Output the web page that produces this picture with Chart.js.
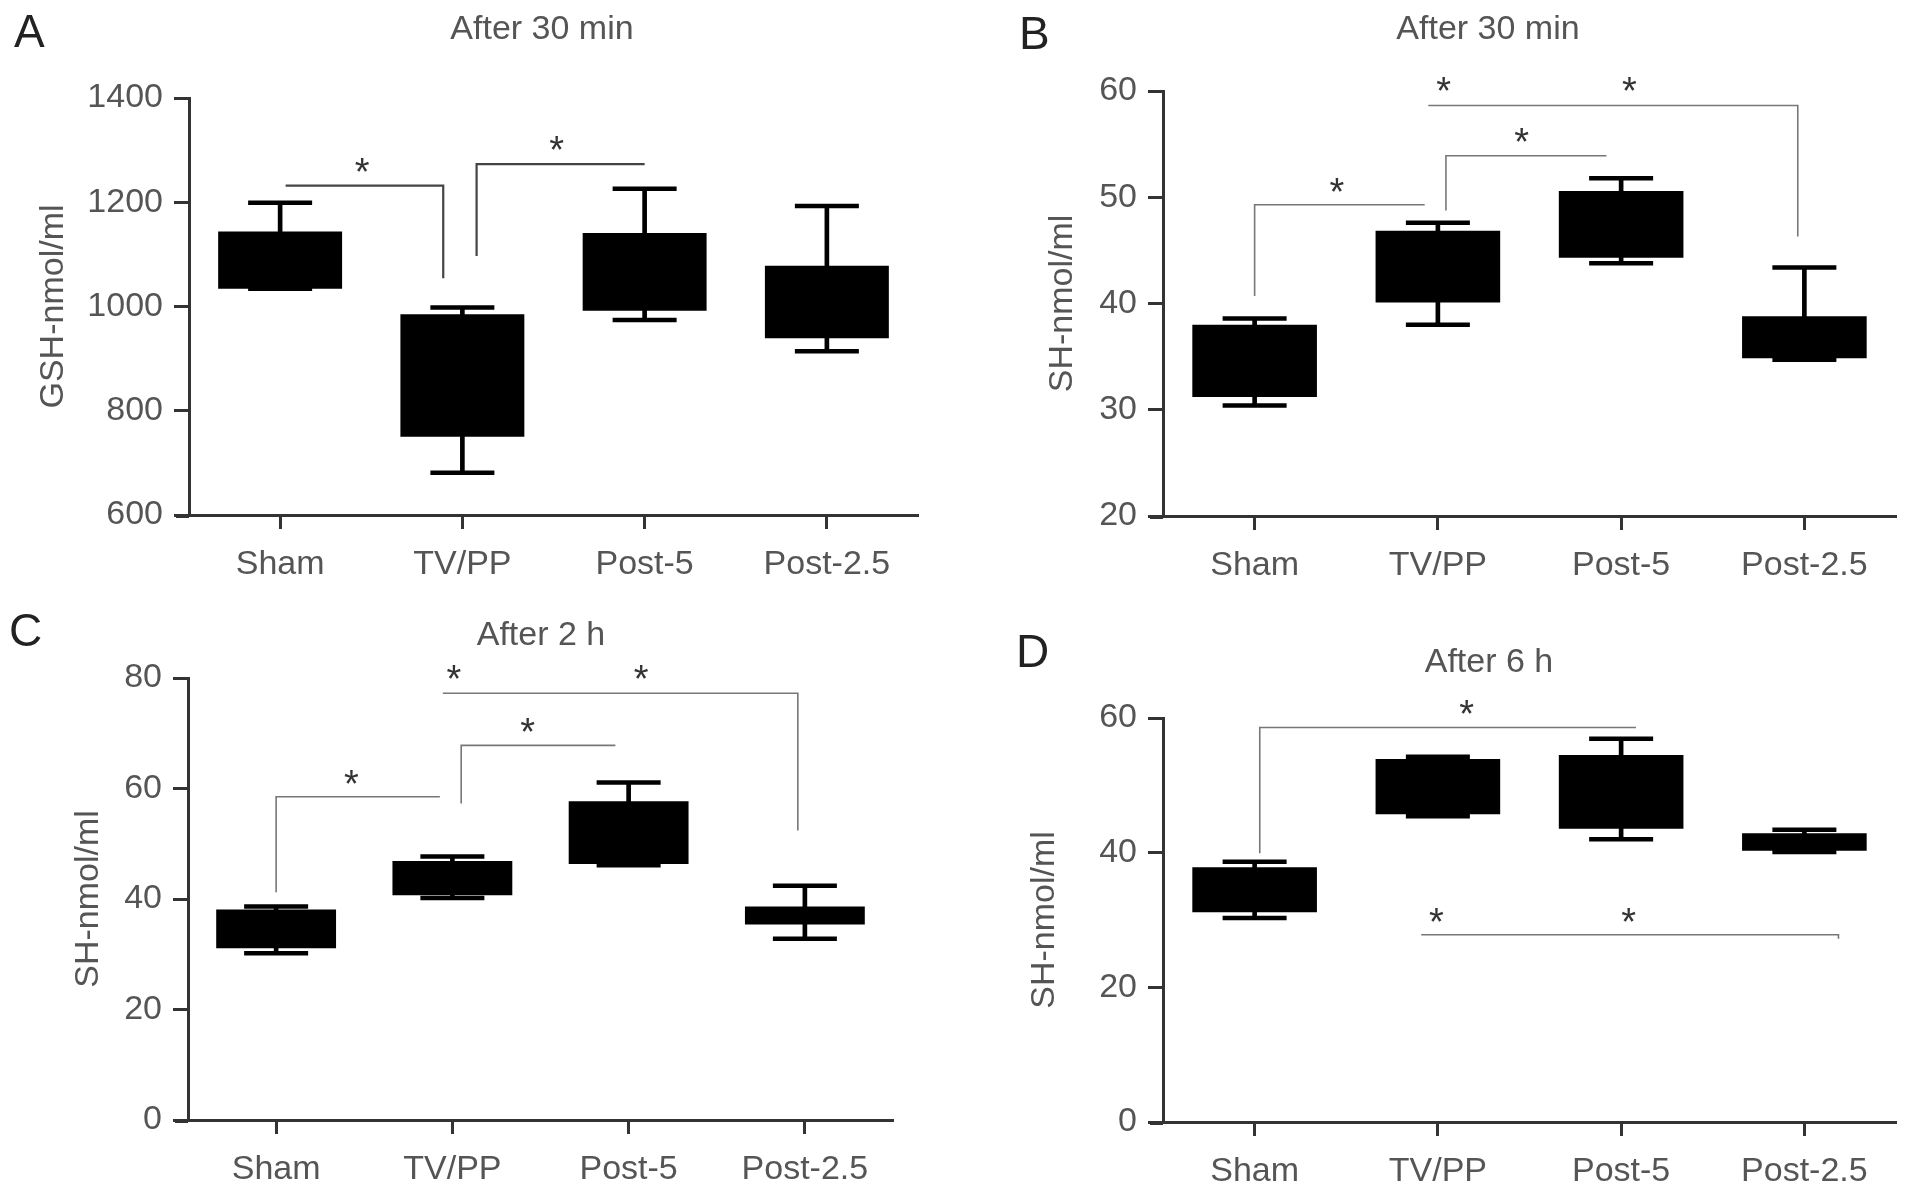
<!DOCTYPE HTML>
<html>
<head>
<meta charset="utf-8">
<script src="https://cdn.jsdelivr.net/npm/chart.js"></script>
<style>
  body { margin: 0; background: #fff; width: 1913px; height: 1190px; position: relative; overflow: hidden;
         font-family: 'Liberation Sans', Arial, sans-serif; }
  canvas { position: absolute; }
  .letter { position: absolute; font-size: 46px; line-height: 46px; color: #222; }
  .title { position: absolute; width: 400px; text-align: center; font-size: 34px; line-height: 34px; color: #555; }
</style>
<script>
  // groups on the x axis (same in every panel)
  const groups = ["Sham", "TV/PP", "Post-5", "Post-2.5"];

  // A - GSH after 30 min
  const aMax = [1199, 998, 1226, 1193];
  const aQ3  = [1144, 985, 1141, 1078];
  const aQ1  = [1034, 750, 992, 939];
  const aMin = [1034, 681, 974, 914];
  const aBrackets = [
    [{x: 0.03, y: 1232}, {x: 0.895, y: 1232}, {x: 0.895, y: 1054}],
    [{x: 1.078, y: 1097}, {x: 1.078, y: 1273}, {x: 2.0, y: 1273}]
  ];
  const aStars = [{x: 0.45, y: 1274}, {x: 1.517, y: 1316}];

  // B - SH after 30 min
  const bMax = [38.6, 47.6, 51.8, 43.4];
  const bQ3  = [38.0, 46.85, 50.6, 38.8];
  const bQ1  = [31.2, 40.1, 44.3, 34.85];
  const bMin = [30.4, 38.0, 43.8, 34.7];
  const bBrackets = [
    [{x: 0.0, y: 40.7}, {x: 0.0, y: 49.3}, {x: 0.928, y: 49.3}],
    [{x: 1.044, y: 48.75}, {x: 1.044, y: 53.9}, {x: 1.92, y: 53.9}],
    [{x: 0.948, y: 58.63}, {x: 2.964, y: 58.63}, {x: 2.964, y: 46.3}]
  ];
  const bStars = [{x: 0.449, y: 51.27}, {x: 1.457, y: 56.0}, {x: 1.031, y: 60.8}, {x: 2.045, y: 60.8}];

  // C - SH after 2 h
  const cMax = [38.65, 47.7, 61.1, 42.4];
  const cQ3  = [38.1, 46.9, 57.7, 38.65];
  const cQ1  = [31.1, 40.7, 46.35, 35.4];
  const cMin = [30.2, 40.2, 46.1, 32.8];
  const cBrackets = [
    [{x: 0.0, y: 41.2}, {x: 0.0, y: 58.5}, {x: 0.929, y: 58.5}],
    [{x: 1.05, y: 57.3}, {x: 1.05, y: 67.8}, {x: 1.925, y: 67.8}],
    [{x: 0.946, y: 77.25}, {x: 2.96, y: 77.25}, {x: 2.96, y: 52.4}]
  ];
  const cStars = [{x: 0.427, y: 62.3}, {x: 1.427, y: 71.8}, {x: 1.009, y: 81.4}, {x: 2.071, y: 81.4}];

  // D - SH after 6 h
  const dMax = [38.65, 54.25, 56.9, 43.4];
  const dQ3  = [37.85, 53.9, 54.5, 42.9];
  const dQ1  = [31.15, 45.7, 43.55, 40.3];
  const dMin = [30.3, 45.4, 42.0, 40.1];
  const dBrackets = [
    [{x: 0.028, y: 39.9}, {x: 0.028, y: 58.6}, {x: 2.081, y: 58.6}],
    [{x: 0.909, y: 27.8}, {x: 3.186, y: 27.8}, {x: 3.186, y: 27.2}]
  ];
  const dStars = [{x: 1.157, y: 61.86}, {x: 0.992, y: 31.0}, {x: 2.041, y: 31.0}];

  const axisColor = '#333';
  const textColor = '#555';
  Chart.defaults.font.family = "'Liberation Sans', Arial, sans-serif";
  Chart.defaults.color = textColor;

  // asterisks over the brackets + short x axis stub left of the y axis
  const starPlugin = {
    id: 'stars',
    afterDatasetsDraw(chart, args, opts) {
      const {ctx, scales, chartArea} = chart;
      ctx.save();
      ctx.strokeStyle = axisColor;
      ctx.lineWidth = 3;
      ctx.beginPath();
      ctx.moveTo(chartArea.left - 13, chartArea.bottom + 1.5);
      ctx.lineTo(chartArea.left, chartArea.bottom + 1.5);
      ctx.stroke();
      ctx.font = "38px 'Liberation Sans', Arial, sans-serif";
      ctx.fillStyle = '#333';
      ctx.textAlign = 'center';
      ctx.textBaseline = 'alphabetic';
      opts.points.forEach(s => {
        ctx.fillText('*', scales.xb.getPixelForValue(s.x), scales.y.getPixelForValue(s.y) + 21.7);
      });
      ctx.restore();
    }
  };

  function makePanel(id, p) {
    const ctx = document.getElementById(id).getContext('2d');
    const W = ctx.canvas.width, H = ctx.canvas.height;
    const capStyle = {
      type: 'line', showLine: false, pointStyle: 'line', pointRadius: 32, pointHoverRadius: 32,
      pointBorderWidth: 4.5, pointBorderColor: '#000', pointBackgroundColor: '#000'
    };
    const datasets = [
      { type: 'bar', data: p.min.map((v, i) => [v, p.max[i]]), backgroundColor: '#000',
        barThickness: 4, grouped: false, order: 2 },
      { type: 'bar', data: p.q1.map((v, i) => [v, p.q3[i]]), backgroundColor: '#000',
        barPercentage: 0.68, categoryPercentage: 1, grouped: false, order: 1 },
      Object.assign({ data: p.max, order: 0 }, capStyle),
      Object.assign({ data: p.min, order: 0 }, capStyle)
    ];
    p.brackets.forEach(b => datasets.push({
      type: 'line', xAxisID: 'xb', data: b, borderColor: p.lineColor, borderWidth: p.lineWidth,
      pointRadius: 0, fill: false, tension: 0, order: 0
    }));

    new Chart(ctx, {
      type: 'bar',
      data: { labels: groups, datasets: datasets },
      options: {
        responsive: false,
        animation: false,
        layout: { autoPadding: false, padding: { left: 0, top: p.area.top, right: W - p.area.right, bottom: 0 } },
        plugins: { legend: { display: false }, tooltip: { enabled: false }, stars: { points: p.stars } },
        scales: {
          x: {
            type: 'category', offset: true,
            grid: { drawOnChartArea: false, drawTicks: true, tickLength: 14, tickWidth: 3, tickColor: axisColor, offset: false },
            border: { display: true, width: 3, color: axisColor },
            ticks: { color: textColor, font: { size: 34 }, padding: 15, maxRotation: 0, autoSkip: false },
            afterFit: s => { s.height = H - p.area.bottom; s.paddingLeft = 0; s.paddingRight = 0; }
          },
          xb: { type: 'linear', axis: 'x', display: false, offset: false, min: -0.5, max: 3.5,
                grid: { offset: false } },
          y: {
            min: p.yMin, max: p.yMax,
            ticks: { stepSize: p.step, color: textColor, font: { size: 34 }, padding: 11,
                     callback: v => String(v) },
            grid: { drawOnChartArea: false, drawTicks: true, tickLength: 15, tickWidth: 3, tickColor: axisColor },
            border: { display: true, width: 3, color: axisColor },
            title: { display: true, text: p.yTitle, color: textColor, font: { size: 34 }, padding: { top: p.titlePad, bottom: 0 } },
            afterFit: s => { s.width = p.area.left; }
          }
        }
      },
      plugins: [starPlugin]
    });
  }

  window.onload = function() {
    makePanel('chartA', { min: aMin, q1: aQ1, q3: aQ3, max: aMax, brackets: aBrackets, stars: aStars,
      yMin: 600, yMax: 1400, step: 200, yTitle: 'GSH-nmol/ml', titlePad: 33,
      lineColor: '#444', lineWidth: 2.2, area: { left: 189, right: 918, top: 98, bottom: 515 } });
    makePanel('chartB', { min: bMin, q1: bQ1, q3: bQ3, max: bMax, brackets: bBrackets, stars: bStars,
      yMin: 20, yMax: 60, step: 10, yTitle: 'SH-nmol/ml', titlePad: 86,
      lineColor: '#777', lineWidth: 1.6, area: { left: 207, right: 940, top: 91, bottom: 516 } });
    makePanel('chartC', { min: cMin, q1: cQ1, q3: cQ3, max: cMax, brackets: cBrackets, stars: cStars,
      yMin: 0, yMax: 80, step: 20, yTitle: 'SH-nmol/ml', titlePad: 68,
      lineColor: '#777', lineWidth: 1.6, area: { left: 188, right: 893, top: 83, bottom: 525 } });
    makePanel('chartD', { min: dMin, q1: dQ1, q3: dQ3, max: dMax, brackets: dBrackets, stars: dStars,
      yMin: 0, yMax: 60, step: 20, yTitle: 'SH-nmol/ml', titlePad: 68,
      lineColor: '#777', lineWidth: 1.6, area: { left: 207, right: 940, top: 123, bottom: 527 } });
  };
</script>
</head>
<body>
  <canvas id="chartA" width="956" height="595" style="left:0px; top:0px; width:956px; height:595px;"></canvas>
  <canvas id="chartB" width="957" height="595" style="left:956px; top:0px; width:957px; height:595px;"></canvas>
  <canvas id="chartC" width="956" height="595" style="left:0px; top:595px; width:956px; height:595px;"></canvas>
  <canvas id="chartD" width="957" height="595" style="left:956px; top:595px; width:957px; height:595px;"></canvas>

  <div class="letter" style="left:14px; top:8px;">A</div>
  <div class="letter" style="left:1019px; top:10px;">B</div>
  <div class="letter" style="left:9px; top:607px;">C</div>
  <div class="letter" style="left:1016px; top:628px;">D</div>

  <div class="title" style="left:342px; top:10px;">After 30 min</div>
  <div class="title" style="left:1288px; top:10px;">After 30 min</div>
  <div class="title" style="left:341px; top:616px;">After 2 h</div>
  <div class="title" style="left:1289px; top:643px;">After 6 h</div>
</body>
</html>
